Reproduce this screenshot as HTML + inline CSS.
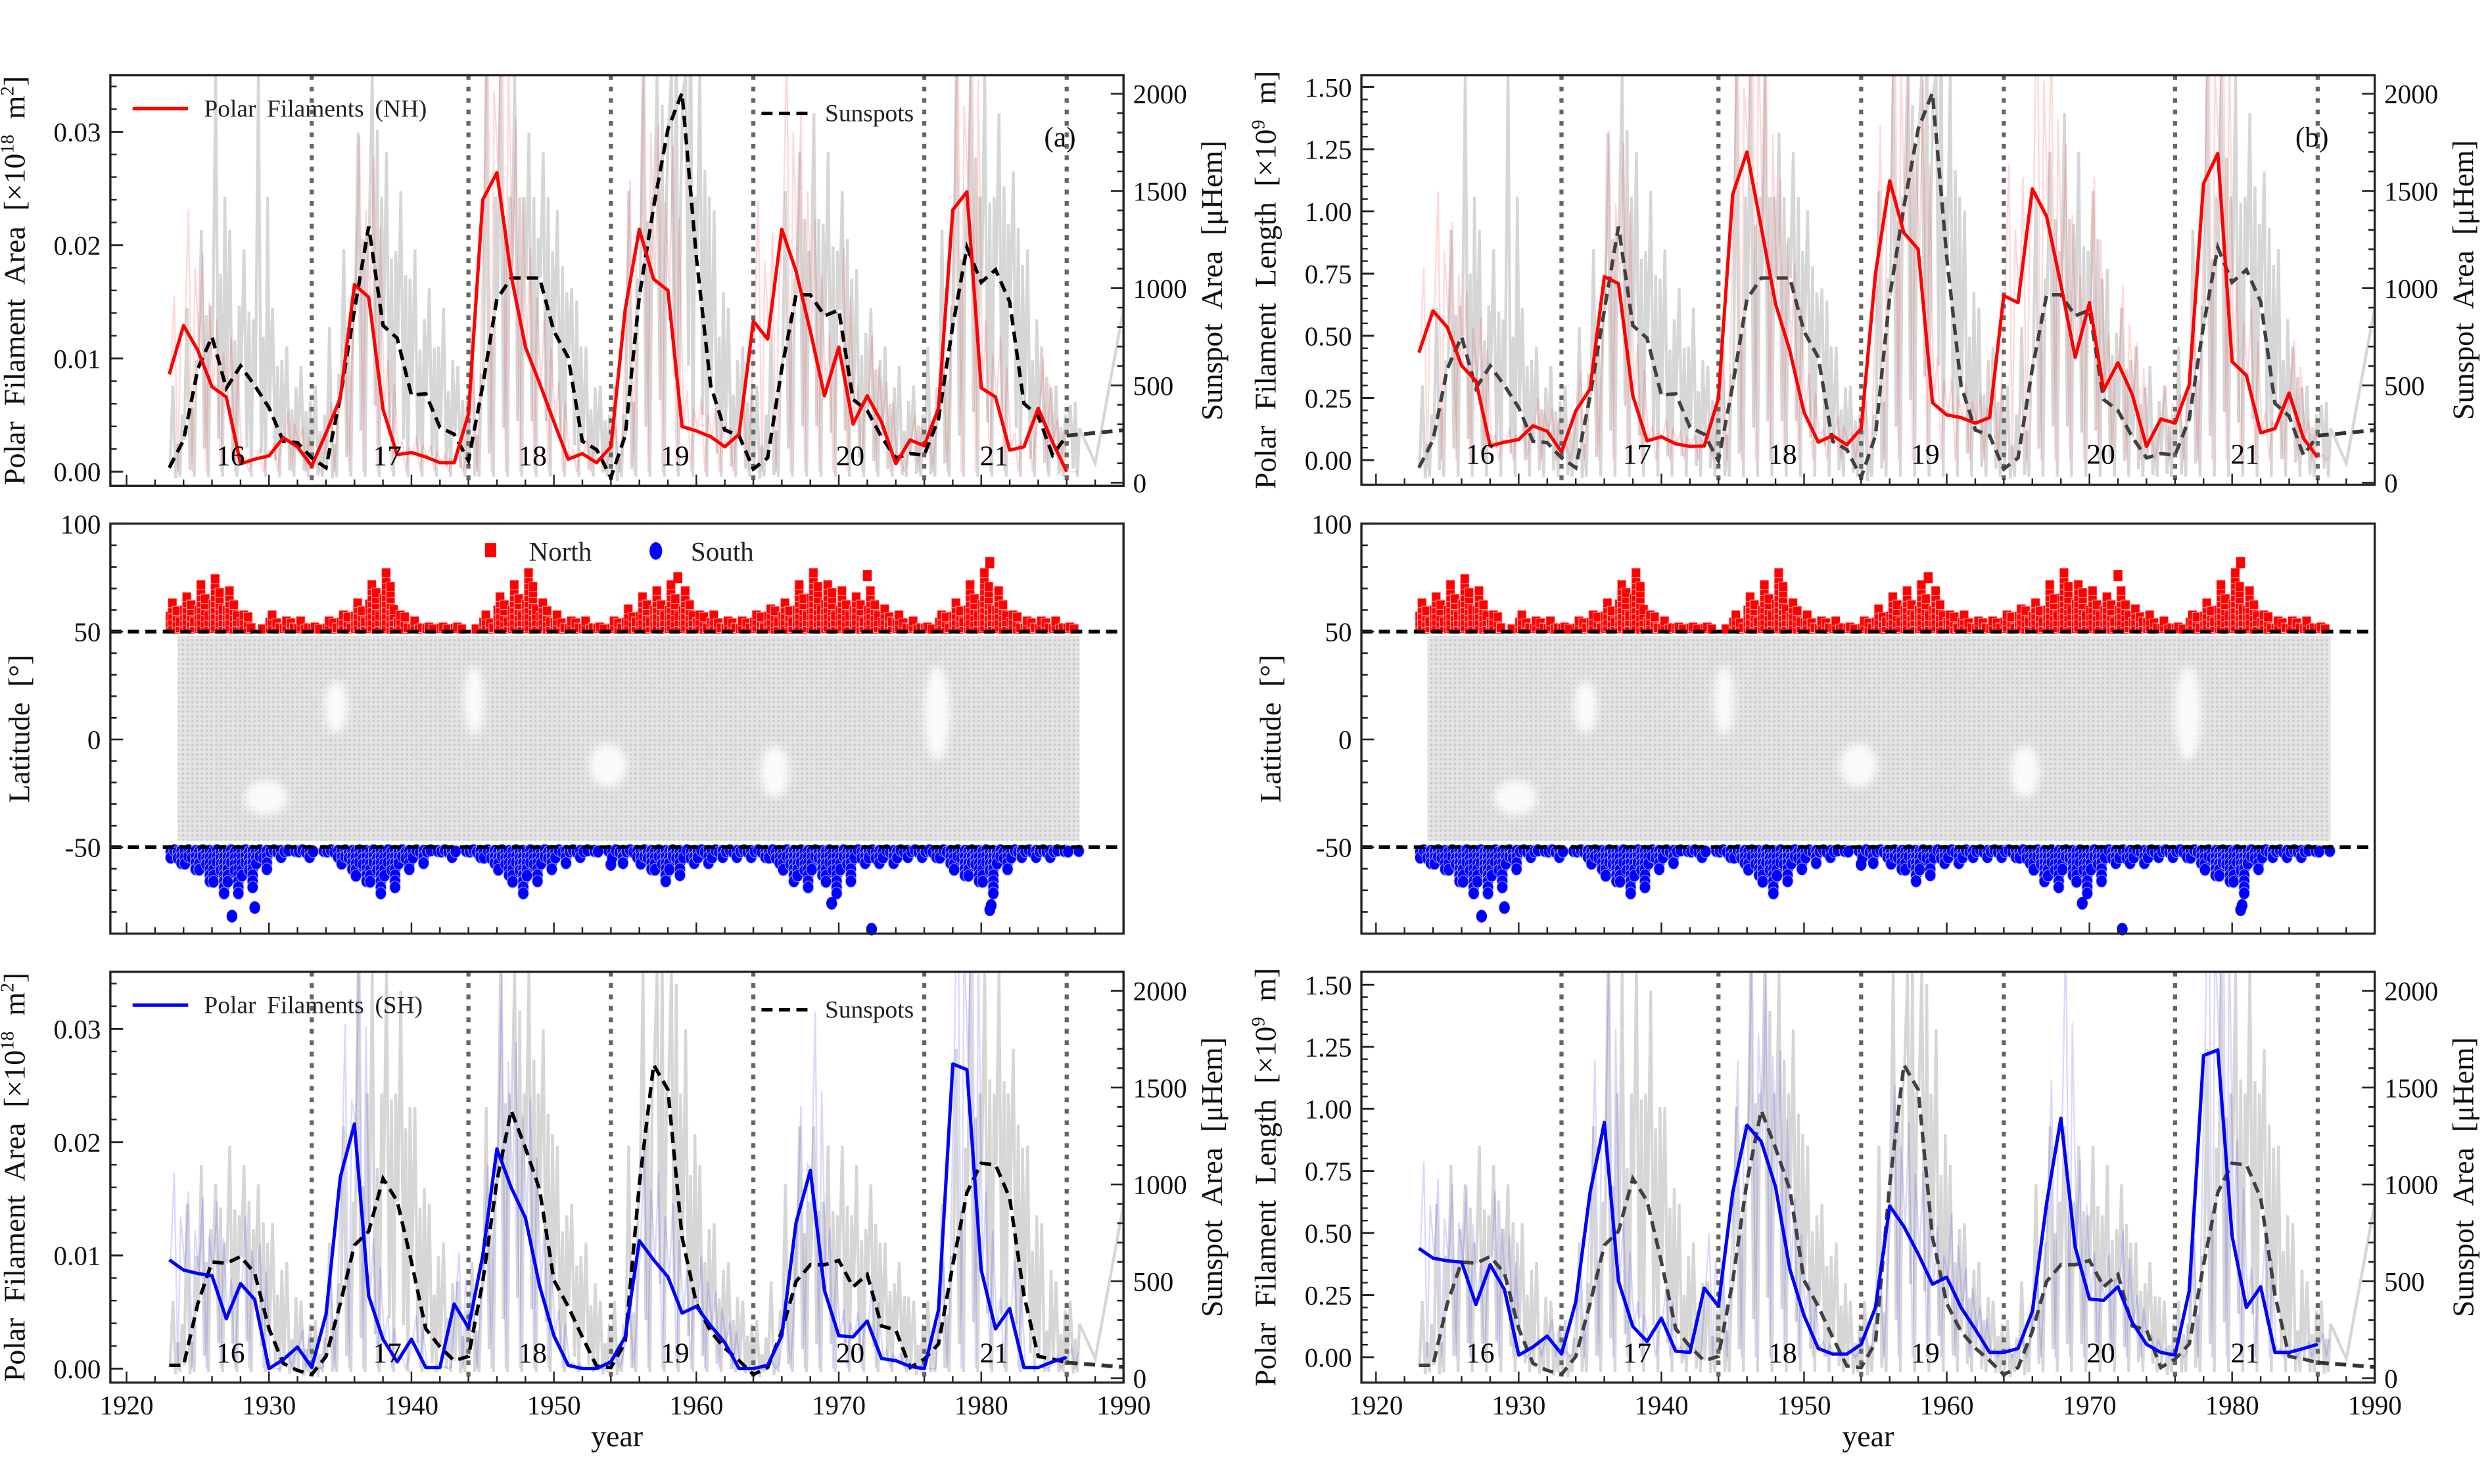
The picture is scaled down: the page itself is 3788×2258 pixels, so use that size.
<!DOCTYPE html>
<html><head><meta charset="utf-8"><style>
html,body{margin:0;padding:0;background:#fff;}
svg{display:block;font-family:"Liberation Serif",serif;}
</style></head><body>
<svg id="chart" width="3788" height="2258" viewBox="0 0 1568 934.66" xmlns="http://www.w3.org/2000/svg">
<rect x="0" y="0" width="1568" height="934.66" fill="#fff"/>
</svg>
<script>
const years=[1923,1924,1925,1926,1927,1928,1929,1930,1931,1932,1933,1934,1935,1936,1937,1938,1939,1940,1941,1942,1943,1944,1945,1946,1947,1948,1949,1950,1951,1952,1953,1954,1955,1956,1957,1958,1959,1960,1961,1962,1963,1964,1965,1966,1967,1968,1969,1970,1971,1972,1973,1974,1975,1976,1977,1978,1979,1980,1981,1982,1983,1984,1985,1986];
const areaNH=[0.0086,0.0129,0.0107,0.0075,0.0066,0.0007,0.0011,0.0014,0.003,0.0022,0.0005,0.0034,0.0065,0.0165,0.0154,0.0055,0.0015,0.0017,0.0013,0.0008,0.0008,0.0051,0.024,0.0264,0.0173,0.011,0.0078,0.0044,0.0011,0.0016,0.0008,0.0022,0.0143,0.0214,0.017,0.016,0.004,0.0036,0.0031,0.0022,0.0033,0.0133,0.0117,0.0214,0.0177,0.0124,0.0067,0.011,0.0042,0.0067,0.0044,0.0007,0.0028,0.0023,0.0056,0.0231,0.0247,0.0074,0.0066,0.0019,0.0022,0.0056,0.0026,0.0];
const areaSH=[0.0096,0.0087,0.0084,0.0082,0.0044,0.0075,0.0061,0.0,0.0008,0.0019,0.0001,0.0048,0.0169,0.0216,0.0064,0.0026,0.0006,0.0026,0.0001,0.0001,0.0057,0.0036,0.01,0.0194,0.016,0.0133,0.0073,0.0029,0.0003,0.0,0.0,0.0006,0.0028,0.0113,0.0096,0.0081,0.0049,0.0055,0.0038,0.0023,0.0,0.0,0.0003,0.0029,0.0129,0.0175,0.0069,0.0029,0.0028,0.0042,0.0009,0.0007,0.0002,0.0,0.0052,0.0269,0.0264,0.0087,0.0035,0.0053,0.0001,0.0001,0.0006,0.001];
const lengthNH=[0.432,0.6,0.534,0.38,0.319,0.057,0.072,0.083,0.138,0.116,0.033,0.198,0.286,0.738,0.71,0.259,0.077,0.094,0.066,0.055,0.057,0.248,1.068,1.239,0.936,0.628,0.44,0.193,0.072,0.099,0.061,0.127,0.749,1.123,0.914,0.848,0.231,0.182,0.171,0.149,0.171,0.661,0.633,1.09,0.98,0.705,0.413,0.633,0.281,0.391,0.264,0.055,0.165,0.149,0.303,1.112,1.233,0.396,0.341,0.11,0.127,0.27,0.088,0.011];
const lengthSH=[0.438,0.399,0.388,0.383,0.212,0.372,0.272,0.008,0.041,0.085,0.013,0.223,0.664,0.945,0.305,0.124,0.063,0.157,0.024,0.019,0.278,0.206,0.664,0.934,0.868,0.686,0.355,0.168,0.035,0.013,0.013,0.052,0.2,0.609,0.526,0.416,0.294,0.322,0.2,0.112,0.019,0.019,0.035,0.184,0.62,0.962,0.443,0.234,0.229,0.284,0.14,0.052,0.019,0.008,0.267,1.215,1.237,0.487,0.2,0.284,0.019,0.019,0.035,0.052];
const sunspotNH=[77,220,586,750,486,600,500,385,213,206,127,77,443,887,1317,808,743,450,457,285,249,113,500,944,1052,1052,1052,779,643,213,170,27,242,958,1417,1818,2004,1159,500,271,242,70,127,586,966,966,858,887,428,371,235,127,149,142,328,808,1209,1030,1095,930,407,342,142,242];
const sunspotSH=[66,66,385,600,593,628,542,255,76,40,19,112,385,686,758,1030,915,600,255,162,90,112,499,1016,1382,1188,973,506,370,212,62,55,184,1001,1618,1489,729,385,241,155,90,19,55,241,499,585,585,607,471,535,270,248,55,98,176,585,958,1109,1102,930,428,112,98,80];
const tailYears=[1986,1990];
const tailNH=[242,270];
const tailSH=[80,57];
const monthlyPeakNH=[500,900,1300,2100,1300,1200,2100,900,700,600,500,800,1200,1800,2100,1700,1500,1200,1000,900,600,800,2100,2100,2100,1800,1700,1400,1000,700,500,500,1500,2100,2100,2100,2100,2100,1400,900,700,500,800,1500,1700,1900,1700,1500,1100,900,700,600,500,700,1300,2100,2100,2100,1900,1600,1200,700,500,400];
const monthlyPeakSH=[400,900,1100,1000,1200,1100,1000,800,600,400,300,700,1300,2100,2100,2100,2000,1400,900,700,500,600,1400,2100,2100,2100,1800,1200,900,700,400,400,1200,2100,2100,2100,1800,1100,800,600,400,300,500,1000,1300,1300,1200,1200,1100,1000,700,600,400,400,900,1700,2100,2100,2100,1700,1200,800,500,400];
const minimaYears=[1933,1944,1954,1964,1976,1986];
const cycleNumbers=["16","17","18","19","20","21"];
const cycleYears=[1927.3,1938.3,1948.5,1958.5,1970.8,1980.9];
const northMaxLat=[66,68,72,77,70,60,52,58,56,55,53,56,60,66,74,80,60,55,54,54,53,52,58,68,73,78,65,58,56,55,54,56,62,67,70,72,70,60,58,57,56,60,63,66,72,79,74,70,68,70,62,58,55,54,60,66,72,78,70,60,57,56,55,54];
const southMinLat=[-60,-62,-66,-72,-74,-70,-62,-56,-54,-55,-53,-56,-62,-68,-74,-70,-62,-58,-54,-55,-53,-56,-60,-65,-72,-68,-62,-58,-56,-54,-53,-58,-56,-62,-66,-64,-60,-58,-57,-56,-55,-56,-60,-66,-71,-64,-72,-66,-60,-60,-58,-57,-56,-55,-58,-64,-68,-72,-62,-57,-56,-55,-54,-53];
const northOutlierYears=[1958.7,1972.0,1980.6];
const northOutlierLat=[75,76,82];
const southOutlierYears=[1927.4,1929.0,1954.0,1969.5,1972.3,1980.6,1980.7];
const southOutlierLat=[-82,-78,-58,-76,-88,-79,-77];
const gapYears=[1929.8,1934.7,1944.4,1953.8,1965.5,1976.9];
const gapLat=[-27,15,18,-12,-15,12];
const gapHalfYears=[1.5,0.8,0.7,1.3,1.0,0.9];
const gapHalfLat=[8,12,16,10,12,22];

const NS='http://www.w3.org/2000/svg';
const svg=document.getElementById('chart');
function mk(tag,attrs,parent){const e=document.createElementNS(NS,tag);for(const k in attrs)e.setAttribute(k,attrs[k]);(parent||svg).appendChild(e);return e;}
const xL=yr=>79.7+(yr-1920)*8.97;
const xR=yr=>866.5+(yr-1920)*8.985;
const ssTop=v=>304-v/2000*245;
const ssBot=v=>868-v/2000*244;
const latY=l=>465.7-l*1.358;
const panels=[
 {id:'area-nh',X:xL,x0:69.5,x1:707.5,y0:47.4,y1:306,yL:v=>297.1-v/0.03*214.1,yR:ssTop,vals:areaNH,ss:sunspotNH,tail:tailNH,peak:monthlyPeakNH,color:'#ff0000',ssColor:'#000',leftTicks:[0,0.01,0.02,0.03],leftFmt:v=>v.toFixed(2),minorStep:0.002,minorMax:0.034,leg:'Polar Filaments (NH)',tag:'(a)',ylab:'area',cyY:293},
 {id:'length-nh',X:xR,x0:857.3,x1:1495.4,y0:47.4,y1:305.3,yL:v=>289.8-v/1.5*235,yR:ssTop,vals:lengthNH,ss:sunspotNH,tail:tailNH,peak:monthlyPeakNH,color:'#ff0000',ssColor:'#404040',leftTicks:[0,0.25,0.5,0.75,1,1.25,1.5],leftFmt:v=>v.toFixed(2),minorStep:0.05,minorMax:1.54,leg:null,tag:'(b)',ylab:'length',cyY:292},
 {id:'area-sh',X:xL,x0:69.5,x1:707.5,y0:612,y1:870.8,yL:v=>862-v/0.03*214,yR:ssBot,vals:areaSH,ss:sunspotSH,tail:tailSH,peak:monthlyPeakSH,color:'#0000ff',ssColor:'#000',leftTicks:[0,0.01,0.02,0.03],leftFmt:v=>v.toFixed(2),minorStep:0.002,minorMax:0.034,leg:'Polar Filaments (SH)',tag:null,ylab:'area',cyY:858,xlab:true},
 {id:'length-sh',X:xR,x0:857.3,x1:1495.4,y0:612,y1:870.8,yL:v=>854.8-v/1.5*234.6,yR:ssBot,vals:lengthSH,ss:sunspotSH,tail:tailSH,peak:monthlyPeakSH,color:'#0000ff',ssColor:'#404040',leftTicks:[0,0.25,0.5,0.75,1,1.25,1.5],leftFmt:v=>v.toFixed(2),minorStep:0.05,minorMax:1.54,leg:null,tag:null,ylab:'length',cyY:858,xlab:true}
];
const defs=mk('defs',{});


const pat=mk('pattern',{id:'dots',width:3,height:3,patternUnits:'userSpaceOnUse'},defs);


const pb=mk('rect',{x:0,y:0,width:3,height:3,fill:'#e4e4e4'},pat);


const pd=mk('rect',{x:0.5,y:0.5,width:1.4,height:1.4,fill:'#c9c9c9'},pat);


const blur=mk('filter',{id:'soft',x:'-50%',y:'-50%',width:'200%',height:'200%'},defs);


const gb=mk('feGaussianBlur',{stdDeviation:2.5},blur);



function frameAndXTicks(g,P,id,xlab){
  const fr=mk('rect',{x:P.x0,y:P.y0,width:P.x1-P.x0,height:P.y1-P.y0,fill:'none',stroke:'#222','stroke-width':1.4},g);
  
  
  for(let yr=1920;yr<=1990;yr+=2){
    const x=P.X(yr);const major=yr%10===0;
    const t=mk('line',{x1:x,x2:x,y1:P.y1,y2:P.y1-(major?7:4),stroke:'#222','stroke-width':1},g);
    
    
    if(major&&xlab){
      const tl=mk('text',{x:x,y:P.y1+20,'font-size':17,'text-anchor':'middle',fill:'#111'},g);
      
      
      tl.textContent=yr;
    }
  }
}

panels.forEach(P=>{
  const g=mk('g',{});
  
  
  const cp=mk('clipPath',{id:'clip-'+P.id},defs);
  
  
  const cr=mk('rect',{x:P.x0,y:P.y0,width:P.x1-P.x0,height:P.y1-P.y0},cp);
  
  
  const inner=mk('g',{'clip-path':'url(#clip-'+P.id+')'},g);
  
  
  let pts=[];
  years.forEach((yr,i)=>{
    pts.push([yr+0.05,P.ss[i]],[yr+0.25,P.peak[i]],[yr+0.45,P.ss[i]*0.3],[yr+0.6,P.ss[i]*1.3+100],[yr+0.75,30],[yr+0.9,P.peak[i]*0.7]);
  });
  pts.push([1988,100],[1990,900]);
  const gt=mk('polyline',{points:pts.map(p=>P.X(p[0]).toFixed(1)+','+P.yR(p[1]).toFixed(1)).join(' '),fill:'none',stroke:'#d6d6d6','stroke-width':1.8},inner);
  
  
  let fp=[];
  years.forEach((yr,i)=>{
    fp.push([yr+0.1,P.vals[i]],[yr+0.35,P.vals[i]*1.8],[yr+0.6,0],[yr+0.8,P.vals[i]*1.4]);
  });
  const ft=mk('polyline',{points:fp.map(p=>P.X(p[0]).toFixed(1)+','+P.yL(p[1]).toFixed(1)).join(' '),fill:'none',stroke:P.color,'stroke-opacity':0.15,'stroke-width':1},inner);
  
  
  minimaYears.forEach(yr=>{
    const l=mk('line',{x1:P.X(yr),x2:P.X(yr),y1:P.y0,y2:P.y1,stroke:'#666','stroke-width':2.6,'stroke-dasharray':'3,4.2'},inner);
    
    
  });
  const sl=mk('polyline',{points:years.map((yr,i)=>P.X(yr).toFixed(1)+','+P.yR(P.ss[i]).toFixed(1)).join(' '),fill:'none',stroke:P.ssColor,'stroke-width':2.2,'stroke-dasharray':'7,4'},inner);
  
  
  const st=mk('polyline',{points:tailYears.map((yr,i)=>P.X(yr).toFixed(1)+','+P.yR(P.tail[i]).toFixed(1)).join(' '),fill:'none',stroke:'#333','stroke-width':2.4,'stroke-dasharray':'7,4'},inner);
  
  
  const fl=mk('polyline',{points:years.map((yr,i)=>P.X(yr).toFixed(1)+','+P.yL(P.vals[i]).toFixed(1)).join(' '),fill:'none',stroke:P.color,'stroke-width':2.1,'stroke-linejoin':'round'},inner);
  
  
  cycleNumbers.forEach((c,i)=>{
    const t=mk('text',{x:P.X(cycleYears[i]),y:P.cyY,'font-size':18,'text-anchor':'middle',fill:'#000'},g);
    
    
    t.textContent=c;
  });
  if(P.leg){
    const ly=P.y0+21;
    const l1=mk('line',{x1:P.x0+14,x2:P.x0+49,y1:ly,y2:ly,stroke:P.color,'stroke-width':2.2},g);
    
    
    const t1=mk('text',{x:P.x0+59,y:ly+5,'font-size':15.5,'word-spacing':3,fill:'#222'},g);
    
    
    t1.textContent=P.leg;
    const l2=mk('line',{x1:P.x0+410,x2:P.x0+442,y1:ly+3,y2:ly+3,stroke:'#000','stroke-width':2.2,'stroke-dasharray':'7,4'},g);
    
    
    const t2=mk('text',{x:P.x0+450,y:ly+8,'font-size':15.5,fill:'#222'},g);
    
    
    t2.textContent='Sunspots';
  }
  if(P.tag){
    const t=mk('text',{x:P.x1-50,y:P.y0+45,'font-size':18,fill:'#111'},g);
    
    
    t.textContent=P.tag;
  }
  frameAndXTicks(g,P,P.id,P.xlab);
  for(let v=0;v<=P.minorMax+1e-9;v+=P.minorStep){
    const y=P.yL(v);
    const t=mk('line',{x1:P.x0,x2:P.x0+4,y1:y,y2:y,stroke:'#222','stroke-width':1},g);
    
    
  }
  P.leftTicks.forEach(v=>{
    const y=P.yL(v);
    const t=mk('line',{x1:P.x0,x2:P.x0+8,y1:y,y2:y,stroke:'#222','stroke-width':1.2},g);
    
    
    const l=mk('text',{x:P.x0-6,y:y+6,'font-size':17,'text-anchor':'end',fill:'#111'},g);
    
    
    l.textContent=P.leftFmt(v);
  });
  for(let v=0;v<=2100;v+=100){
    const y=P.yR(v);if(y<P.y0||y>P.y1)continue;
    const major=v%500===0;
    const t=mk('line',{x1:P.x1,x2:P.x1-(major?8:4),y1:y,y2:y,stroke:'#222','stroke-width':1.1},g);
    
    
    if(major){
      const l=mk('text',{x:P.x1+6,y:y+6,'font-size':17,fill:'#111'},g);
      
      
      l.textContent=v;
    }
  }
  const cy=(P.y0+P.y1)/2;
  const lx=P.x0-54;
  const yl=mk('text',{transform:'translate('+lx+','+cy+') rotate(-90)','font-size':19,'text-anchor':'middle','word-spacing':5,fill:'#111'},g);
  
  
  if(P.ylab==='area'){
    yl.innerHTML='Polar Filament Area [×10<tspan font-size="12" dy="-7">18</tspan><tspan dy="7"> m</tspan><tspan font-size="12" dy="-7">2</tspan><tspan dy="7">]</tspan>';
  } else {
    yl.innerHTML='Polar Filament Length [×10<tspan font-size="12" dy="-7">9</tspan><tspan dy="7"> m]</tspan>';
  }
  const yr2=mk('text',{transform:'translate('+(P.x1+62)+','+cy+') rotate(-90)','font-size':19,'text-anchor':'middle','word-spacing':5,fill:'#111'},g);
  
  
  yr2.textContent='Sunspot Area [μHem]';
  if(P.xlab){
    const xt=mk('text',{x:(P.x0+P.x1)/2,y:P.y1+40,'font-size':19,'text-anchor':'middle',fill:'#111'},g);
    
    
    xt.textContent='year';
  }
});

[{id:'latitude-left',X:xL,x0:69.5,x1:707.5},{id:'latitude-right',X:xR,x0:857.3,x1:1495.4}].forEach((M,mi)=>{
  const P={X:M.X,x0:M.x0,x1:M.x1,y0:329.8,y1:588};
  const g=mk('g',{});
  
  
  const band=mk('rect',{x:P.X(1923.6),y:latY(48),width:P.X(1986.9)-P.X(1923.6),height:latY(-47)-latY(48),fill:'url(#dots)'},g);
  
  
  gapYears.forEach((yr,i)=>{
    const e=mk('ellipse',{cx:P.X(yr),cy:latY(gapLat[i]),rx:gapHalfYears[i]*8.97,ry:gapHalfLat[i]*1.358,fill:'#fafafa',filter:'url(#soft)'},g);
    
    
  });
  const fr=[0.55,1,0.75,0.4];
  const jit=[0,1.1,-0.6,0.5];
  years.forEach((yr,i)=>{
    for(let s=0;s<4;s++){
      const top=50+(northMaxLat[i]-50)*fr[s];
      for(let l=51.5+jit[s]*0.5;l<=top;l+=2.8){
        const r=mk('rect',{x:P.X(yr+s*0.25+jit[(s+1)%4]*0.05)-2.8,y:latY(l)-3,width:5.6,height:6,fill:'#ff0000',stroke:'#ffb3b3','stroke-width':0.4},g);
        
        
      }
      const bot=-50+(southMinLat[i]+50)*fr[(s+2)%4];
      for(let l=-52+jit[s]*0.5;l>=bot;l-=2.8){
        const c=mk('ellipse',{cx:P.X(yr+s*0.25+0.1),cy:latY(l),rx:3.4,ry:3.9,fill:'#0000ff',stroke:'#aab0ff','stroke-width':0.4},g);
        
        
      }
    }
  });
  northOutlierYears.forEach((yr,i)=>{
    const r=mk('rect',{x:P.X(yr)-2.8,y:latY(northOutlierLat[i])-3.5,width:5.6,height:7,fill:'#ff0000'},g);
    
    
  });
  southOutlierYears.forEach((yr,i)=>{
    const c=mk('ellipse',{cx:P.X(yr),cy:latY(southOutlierLat[i]),rx:3.4,ry:4,fill:'#0000ff'},g);
    
    
  });
  [50,-50].forEach(l=>{
    const d=mk('line',{x1:P.x0,x2:P.x1,y1:latY(l),y2:latY(l),stroke:'#000','stroke-width':2.4,'stroke-dasharray':'7,4'},g);
    
    
  });
  frameAndXTicks(g,P,M.id,false);
  for(let l=-90;l<=100;l+=10){
    const major=l%50===0;
    const t=mk('line',{x1:P.x0,x2:P.x0+(major?8:4),y1:latY(l),y2:latY(l),stroke:'#222','stroke-width':1.1},g);
    
    
    if(major&&l>=-50){
      const tl=mk('text',{x:P.x0-6,y:latY(l)+6,'font-size':17,'text-anchor':'end',fill:'#111'},g);
      
      
      tl.textContent=l;
    }
  }
  const yl=mk('text',{transform:'translate('+(P.x0-51)+',459) rotate(-90)','font-size':19,'text-anchor':'middle','word-spacing':5,fill:'#111'},g);
  
  
  yl.textContent='Latitude [°]';
  if(mi===0){
    const s1=mk('rect',{x:305.5,y:342,width:7,height:9,fill:'#ff0000'},g);
    
    
    const t1=mk('text',{x:333,y:353,'font-size':17,fill:'#222'},g);
    
    
    t1.textContent='North';
    const s2=mk('ellipse',{cx:413,cy:347,rx:4,ry:5.5,fill:'#0000ff'},g);
    
    
    const t2=mk('text',{x:435,y:353,'font-size':17,fill:'#222'},g);
    
    
    t2.textContent='South';
  }
});
</script>
</body></html>
